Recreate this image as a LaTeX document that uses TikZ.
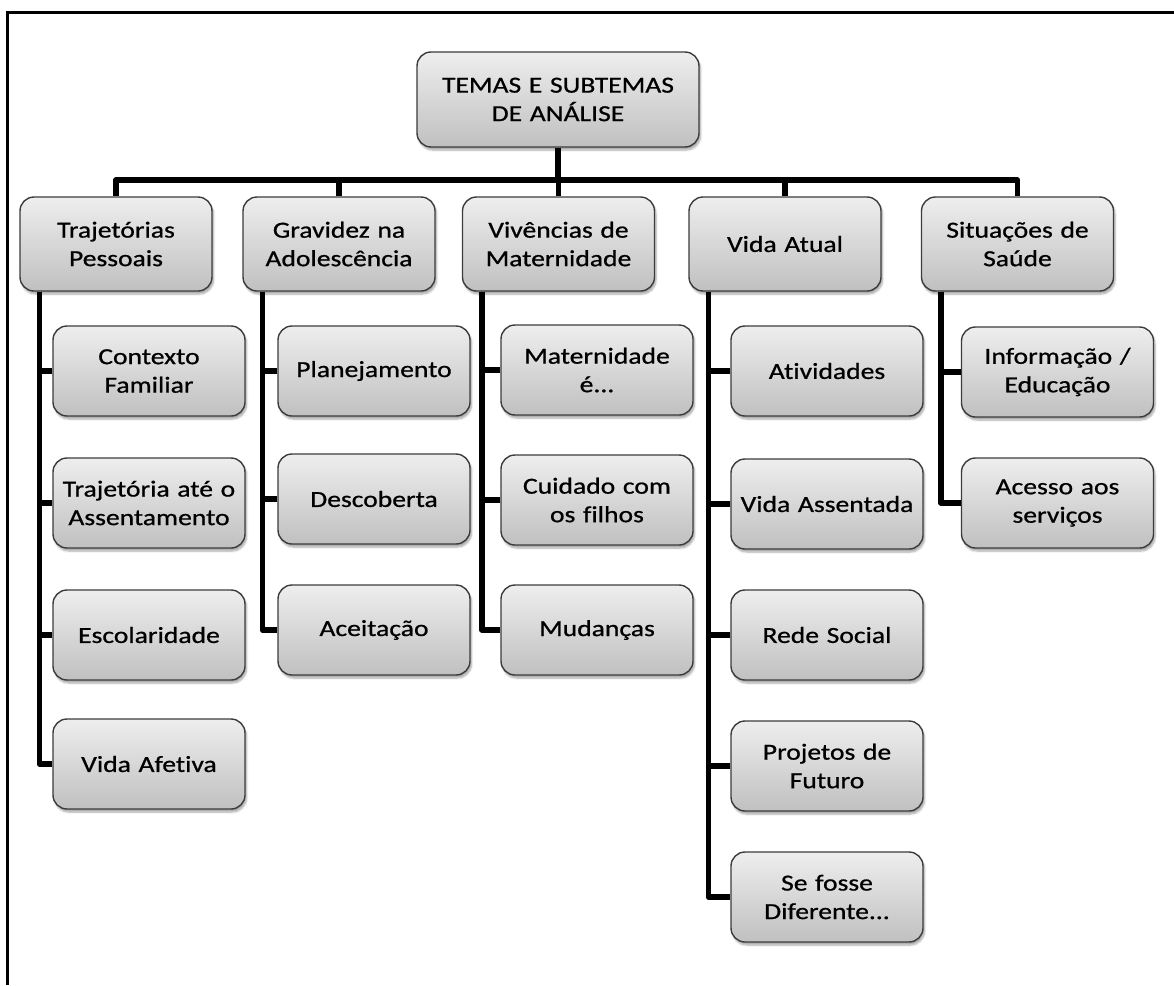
\documentclass[tikz,border=0pt]{standalone}
\usepackage{fontspec}
\setmainfont[FakeStretch=1.2,FakeBold=0.8,Ligatures={NoCommon}]{Carlito}
\usetikzlibrary{shadows.blur}
\definecolor{boxtop}{RGB}{238,238,238}
\definecolor{boxbot}{RGB}{192,192,192}
\definecolor{boxline}{RGB}{60,60,60}
\tikzset{
  box/.style={draw=boxline, line width=1.4pt, rounded corners=14pt,
    top color=boxtop, bottom color=boxbot, align=center,
    inner sep=0pt, font=\fontsize{23}{28.5}\selectfont,
    blur shadow={shadow xshift=1.5pt, shadow yshift=-3pt, shadow blur steps=6, shadow opacity=35}},
  topbox/.style={box, minimum width=192pt, minimum height=94pt, text width=186pt},
  subbox/.style={box, minimum width=192pt, minimum height=90pt, text width=186pt},
  rootbox/.style={box, minimum width=282pt, minimum height=95pt, text width=270pt},
  conn/.style={line width=5.5pt, black, line join=round},
  frame/.style={line width=3.5pt, black}
}
\begin{document}
\begin{tikzpicture}[x=1pt,y=-1pt]
\useasboundingbox (0,0) rectangle (1174,985);
\draw[frame] (7.5,985) -- (7.5,12.5) -- (1174,12.5);

\coordinate (bar) at (558,180);

\node[rootbox] (root) at (558,99.5) {TEMAS E SUBTEMAS\\DE ANÁLISE};

\node[topbox] (t1) at (116,244) {Trajetórias\\Pessoais};
\node[topbox] (t2) at (339,244) {Gravidez na\\Adolescência};
\node[topbox] (t3) at (558.5,244) {Vivências de\\Maternidade};
\node[topbox] (t4) at (785,244) {Vida Atual};
\node[topbox] (t5) at (1017.5,244) {Situações de\\Saúde};

\node[subbox] (c11) at (149,371) {Contexto\\Familiar};
\node[subbox] (c12) at (149,503) {Trajetória até o\\Assentamento};
\node[subbox] (c13) at (149,635) {Escolaridade};
\node[subbox] (c14) at (149,764) {Vida Afetiva};

\node[subbox] (c21) at (374,371) {Planejamento};
\node[subbox] (c22) at (374,499) {Descoberta};
\node[subbox] (c23) at (374,630) {Aceitação};

\node[subbox] (c31) at (597,370) {Maternidade\\é...};
\node[subbox] (c32) at (597,500) {Cuidado com\\os filhos};
\node[subbox] (c33) at (597,630) {Mudanças};

\node[subbox] (c41) at (827,371) {Atividades};
\node[subbox] (c42) at (827,504) {Vida Assentada};
\node[subbox] (c43) at (827,635) {Rede Social};
\node[subbox] (c44) at (827,766) {Projetos de\\Futuro};
\node[subbox] (c45) at (827,897) {Se fosse\\Diferente...};

\node[subbox] (c51) at (1057.5,372) {Informação /\\Educação};
\node[subbox] (c52) at (1057.5,503) {Acesso aos\\serviços};

% root to bar
\draw[conn] (root.south) -- (root.south |- bar);
\draw[conn] (t1.north) |- (bar) -| (t5.north);
\draw[conn] (t2.north) -- (t2.north |- bar);
\draw[conn] (t3.north) -- (t3.north |- bar);
\draw[conn] (t4.north) -- (t4.north |- bar);

% trunks
\coordinate (k1) at ([xshift=20pt]t1.south west);
\coordinate (k2) at ([xshift=20pt]t2.south west);
\coordinate (k3) at ([xshift=20pt]t3.south west);
\coordinate (k4) at ([xshift=20pt]t4.south west);
\coordinate (k5) at ([xshift=20pt]t5.south west);

\draw[conn] (k1) |- (c14.west);
\foreach \c in {c11,c12,c13} \draw[conn] (\c.west) -- (\c.west -| k1);
\draw[conn] (k2) |- (c23.west);
\foreach \c in {c21,c22} \draw[conn] (\c.west) -- (\c.west -| k2);
\draw[conn] (k3) |- (c33.west);
\foreach \c in {c31,c32} \draw[conn] (\c.west) -- (\c.west -| k3);
\draw[conn] (k4) |- (c45.west);
\foreach \c in {c41,c42,c43,c44} \draw[conn] (\c.west) -- (\c.west -| k4);
\draw[conn] (k5) |- (c52.west);
\draw[conn] (c51.west) -- (c51.west -| k5);
\end{tikzpicture}
\end{document}
